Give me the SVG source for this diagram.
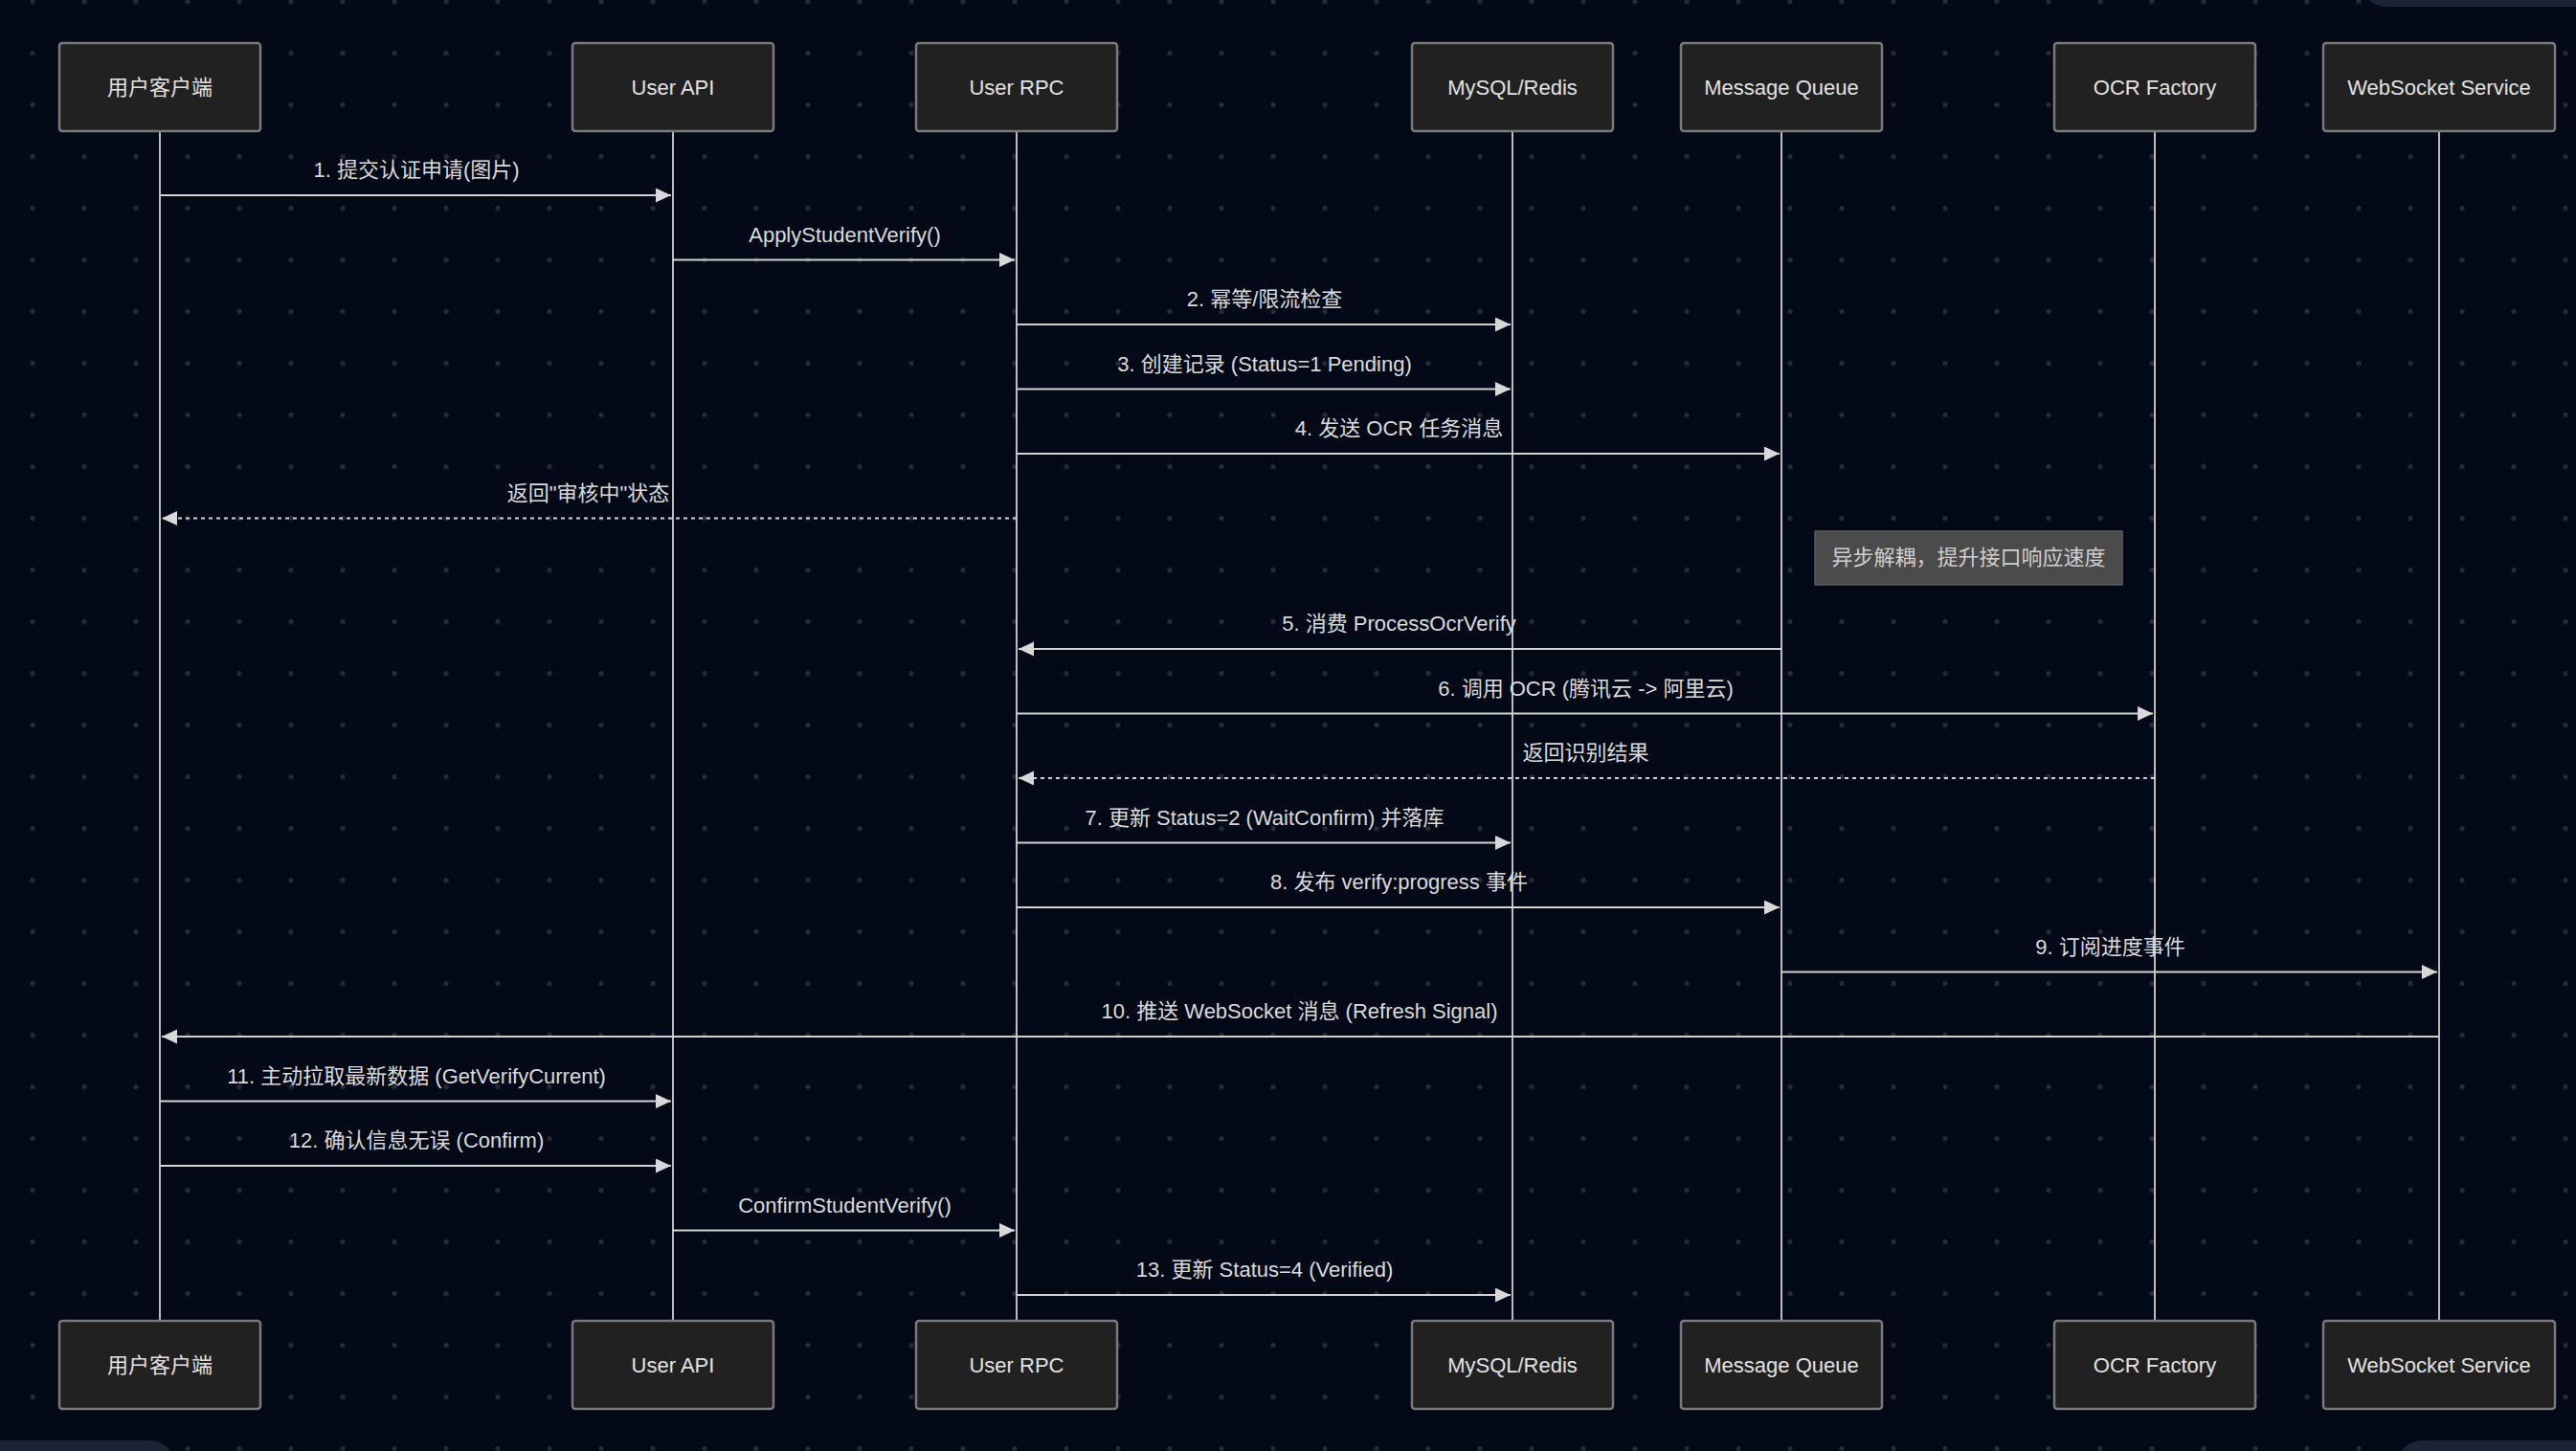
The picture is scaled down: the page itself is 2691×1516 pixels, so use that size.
<svg xmlns="http://www.w3.org/2000/svg" width="2691" height="1516" viewBox="0 0 2691 1516">
<style>
.bg{fill:#040918}
.actor rect{fill:#212121;stroke:#7a7a7a;stroke-width:2.5}
.actor text{fill:#e2e2e2;font-family:"Liberation Sans","Noto Sans CJK SC",sans-serif;font-size:22px;text-anchor:middle}
.life{stroke:#bdbdbd;stroke-width:2;fill:none}
.msg{stroke:#d2d2d2;stroke-width:2.2;fill:none}
.dash{stroke-dasharray:4,4}
.lbl{fill:#dadada;font-family:"Liberation Sans","Noto Sans CJK SC",sans-serif;font-size:22px;text-anchor:middle}
.note rect{fill:#4b4b4b;stroke:#5c5c5c;stroke-width:1.5}
.note text{fill:#cfcfcf;font-family:"Liberation Sans","Noto Sans CJK SC",sans-serif;font-size:22px;text-anchor:middle}
.ui{fill:#1b2435}
</style>
<defs>
<pattern id="dots" patternUnits="userSpaceOnUse" x="7" y="-25.5" width="54" height="54">
<circle cx="27" cy="27" r="2.6" fill="#262b38"/>
</pattern>
<marker id="arr" markerUnits="userSpaceOnUse" markerWidth="16" markerHeight="16" refX="16" refY="7.5" orient="auto">
<path d="M0,0 L16,7.5 L0,15 z" fill="#d8d8d8"/>
</marker>
</defs>
<rect class="bg" x="0" y="0" width="2691" height="1516"/>
<rect x="0" y="0" width="2691" height="1516" fill="url(#dots)"/>
<rect class="ui" x="2467" y="-40" width="280" height="47" rx="26"/>
<rect class="ui" x="-40" y="1505" width="223" height="60" rx="26"/>
<rect class="ui" x="2504" y="1505" width="230" height="60" rx="26"/>

<g id="lifelines">
<line class="life" x1="167" y1="137" x2="167" y2="1380"/>
<line class="life" x1="703" y1="137" x2="703" y2="1380"/>
<line class="life" x1="1062" y1="137" x2="1062" y2="1380"/>
<line class="life" x1="1580" y1="137" x2="1580" y2="1380"/>
<line class="life" x1="1861" y1="137" x2="1861" y2="1380"/>
<line class="life" x1="2251" y1="137" x2="2251" y2="1380"/>
<line class="life" x1="2548" y1="137" x2="2548" y2="1380"/>
</g>

<g id="actor-client" class="actor">
<rect x="62" y="45" width="210" height="92" rx="3"/><text x="167" y="99">用户客户端</text>
<rect x="62" y="1380" width="210" height="92" rx="3"/><text x="167" y="1434">用户客户端</text>
</g>
<g id="actor-userapi" class="actor">
<rect x="598" y="45" width="210" height="92" rx="3"/><text x="703" y="99">User API</text>
<rect x="598" y="1380" width="210" height="92" rx="3"/><text x="703" y="1434">User API</text>
</g>
<g id="actor-userrpc" class="actor">
<rect x="957" y="45" width="210" height="92" rx="3"/><text x="1062" y="99">User RPC</text>
<rect x="957" y="1380" width="210" height="92" rx="3"/><text x="1062" y="1434">User RPC</text>
</g>
<g id="actor-db" class="actor">
<rect x="1475" y="45" width="210" height="92" rx="3"/><text x="1580" y="99">MySQL/Redis</text>
<rect x="1475" y="1380" width="210" height="92" rx="3"/><text x="1580" y="1434">MySQL/Redis</text>
</g>
<g id="actor-mq" class="actor">
<rect x="1756" y="45" width="210" height="92" rx="3"/><text x="1861" y="99">Message Queue</text>
<rect x="1756" y="1380" width="210" height="92" rx="3"/><text x="1861" y="1434">Message Queue</text>
</g>
<g id="actor-ocr" class="actor">
<rect x="2146" y="45" width="210" height="92" rx="3"/><text x="2251" y="99">OCR Factory</text>
<rect x="2146" y="1380" width="210" height="92" rx="3"/><text x="2251" y="1434">OCR Factory</text>
</g>
<g id="actor-ws" class="actor">
<rect x="2427" y="45" width="242" height="92" rx="3"/><text x="2548" y="99">WebSocket Service</text>
<rect x="2427" y="1380" width="242" height="92" rx="3"/><text x="2548" y="1434">WebSocket Service</text>
</g>

<g id="note-async" class="note">
<rect x="1896" y="555" width="321" height="56"/>
<text x="2056.5" y="590">异步解耦，提升接口响应速度</text>
</g>

<g id="connectors">
<line class="msg" x1="167" y1="204" x2="701" y2="204" marker-end="url(#arr)"/>
<text class="lbl" x="435" y="185">1. 提交认证申请(图片)</text>

<line class="msg" x1="703" y1="271.5" x2="1060" y2="271.5" marker-end="url(#arr)"/>
<text class="lbl" x="882.5" y="252.5">ApplyStudentVerify()</text>

<line class="msg" x1="1062" y1="339" x2="1578" y2="339" marker-end="url(#arr)"/>
<text class="lbl" x="1321" y="320">2. 幂等/限流检查</text>

<line class="msg" x1="1062" y1="406.5" x2="1578" y2="406.5" marker-end="url(#arr)"/>
<text class="lbl" x="1321" y="387.5">3. 创建记录 (Status=1 Pending)</text>

<line class="msg" x1="1062" y1="474" x2="1859" y2="474" marker-end="url(#arr)"/>
<text class="lbl" x="1461.5" y="455">4. 发送 OCR 任务消息</text>

<line class="msg dash" x1="1062" y1="541.5" x2="169" y2="541.5" marker-end="url(#arr)"/>
<text class="lbl" x="614.5" y="522.5">返回"审核中"状态</text>

<line class="msg" x1="1861" y1="678" x2="1064" y2="678" marker-end="url(#arr)"/>
<text class="lbl" x="1461.5" y="659">5. 消费 ProcessOcrVerify</text>

<line class="msg" x1="1062" y1="745.5" x2="2249" y2="745.5" marker-end="url(#arr)"/>
<text class="lbl" x="1656.5" y="726.5">6. 调用 OCR (腾讯云 -&gt; 阿里云)</text>

<line class="msg dash" x1="2251" y1="813" x2="1064" y2="813" marker-end="url(#arr)"/>
<text class="lbl" x="1656.5" y="794">返回识别结果</text>

<line class="msg" x1="1062" y1="880.5" x2="1578" y2="880.5" marker-end="url(#arr)"/>
<text class="lbl" x="1321" y="861.5">7. 更新 Status=2 (WaitConfirm) 并落库</text>

<line class="msg" x1="1062" y1="948" x2="1859" y2="948" marker-end="url(#arr)"/>
<text class="lbl" x="1461.5" y="929">8. 发布 verify:progress 事件</text>

<line class="msg" x1="1861" y1="1015.5" x2="2546" y2="1015.5" marker-end="url(#arr)"/>
<text class="lbl" x="2204.5" y="996.5">9. 订阅进度事件</text>

<line class="msg" x1="2548" y1="1083" x2="169" y2="1083" marker-end="url(#arr)"/>
<text class="lbl" x="1357.5" y="1064">10. 推送 WebSocket 消息 (Refresh Signal)</text>

<line class="msg" x1="167" y1="1150.5" x2="701" y2="1150.5" marker-end="url(#arr)"/>
<text class="lbl" x="435" y="1131.5">11. 主动拉取最新数据 (GetVerifyCurrent)</text>

<line class="msg" x1="167" y1="1218" x2="701" y2="1218" marker-end="url(#arr)"/>
<text class="lbl" x="435" y="1199">12. 确认信息无误 (Confirm)</text>

<line class="msg" x1="703" y1="1285.5" x2="1060" y2="1285.5" marker-end="url(#arr)"/>
<text class="lbl" x="882.5" y="1266.5">ConfirmStudentVerify()</text>

<line class="msg" x1="1062" y1="1353" x2="1578" y2="1353" marker-end="url(#arr)"/>
<text class="lbl" x="1321" y="1334">13. 更新 Status=4 (Verified)</text>
</g>
</svg>
